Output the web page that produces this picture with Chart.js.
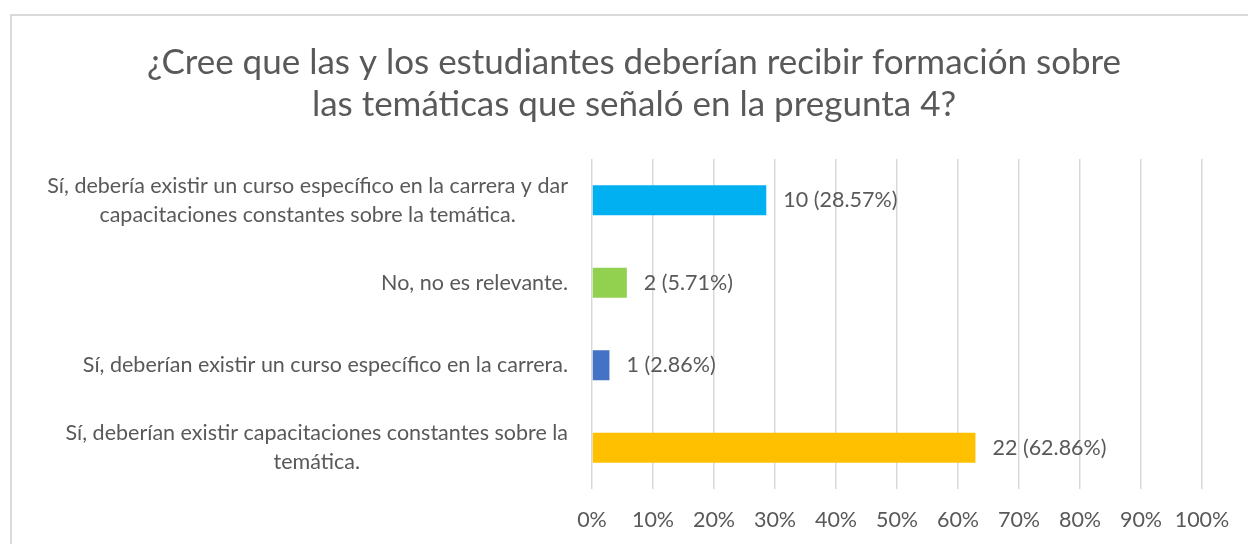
<!DOCTYPE html>
<html>
<head>
<meta charset="utf-8">
<script src="https://cdn.jsdelivr.net/npm/chart.js@4.4.1/dist/chart.umd.min.js"></script>
<style>
    html, body { margin: 0; background: #fff; overflow: hidden; width: 1248px; height: 544px; }
    #marco { position: absolute; left: 10px; top: 14px; width: 1236px; height: 528px; border-left: 2px solid #d9d9d9; border-top: 2px solid #d9d9d9; }
    #grafico { position: absolute; left: 0; top: 0; }
</style>
</head>
<body>
<div id="marco"></div>
<canvas id="grafico" width="1248" height="544"></canvas>
<script>
// Datos de la pregunta
var titulo = [
    "¿Cree que las y los estudiantes deberían recibir formación sobre",
    "las temáticas que señaló en la pregunta 4?"
];
var categorias = [
    ["Sí, debería existir un curso específico en la carrera y dar", "capacitaciones constantes sobre la temática."],
    ["No, no es relevante."],
    ["Sí, deberían existir un curso específico en la carrera."],
    ["Sí, deberían existir capacitaciones constantes sobre la", "temática."]
];
var cantidades = [10, 2, 1, 22];
var porcentajes = [28.57, 5.71, 2.86, 62.86];
var colores = ['#00B0F0', '#92D050', '#4472C4', '#FFC000'];
var marcasX = [0, 10, 20, 30, 40, 50, 60, 70, 80, 90, 100];

var colorTexto = '#595959';
var tamLetra = 21.5;

//Etiquetas de categorias (centradas por bloque) y valores al final de cada barra
var etiquetasPlugin = {
    id: 'etiquetas',
    afterDatasetsDraw: function (chart) {
        var ctx = chart.ctx;
        var escalaY = chart.scales.y;
        var area = chart.chartArea;
        ctx.save();
        ctx.font = tamLetra + 'px Lato';
        ctx.fillStyle = colorTexto;
        ctx.textBaseline = 'middle';

        ctx.textAlign = 'center';
        categorias.forEach(function (lineas, i) {
            var yc = escalaY.getPixelForValue(i);
            var ancho = Math.max.apply(null, lineas.map(function (l) { return ctx.measureText(l).width; }));
            var xc = area.left - 24 - ancho / 2;
            lineas.forEach(function (linea, j) {
                ctx.fillText(linea, xc, yc + (j - (lineas.length - 1) / 2) * 28.7);
            });
        });

        ctx.textAlign = 'left';
        var meta = chart.getDatasetMeta(0);
        meta.data.forEach(function (barra, i) {
            ctx.fillText(cantidades[i] + ' (' + porcentajes[i].toFixed(2) + '%)', barra.x + 17, barra.y);
        });
        ctx.restore();
    }
};

Chart.defaults.font.family = "Lato";
Chart.defaults.color = colorTexto;

var grafico = new Chart(document.getElementById("grafico"), {
    type: 'bar',
    data: {
        labels: categorias,
        datasets: [{
            data: porcentajes,
            backgroundColor: colores,
            borderWidth: 0,
            barPercentage: 0.364,
            categoryPercentage: 1
        }]
    },
    options: {
        indexAxis: 'y',
        responsive: false,
        animation: false,
        layout: {
            padding: { left: 66, right: 46, top: 0, bottom: 0 }
        },
        plugins: {
            legend: { display: false },
            tooltip: { enabled: false },
            title: {
                display: true,
                text: titulo,
                color: colorTexto,
                font: { size: 35, weight: 'normal' },
                lineHeight: 1.334,
                padding: { top: 42, bottom: 33 }
            }
        },
        scales: {
            x: {
                min: 0,
                max: 100,
                ticks: {
                    stepSize: 10,
                    padding: 18,
                    font: { size: tamLetra },
                    callback: function (v) { return marcasX.indexOf(v) >= 0 ? v + '%' : ''; }
                },
                grid: { color: '#d9d9d9', lineWidth: 1.5, drawTicks: false },
                border: { display: false },
                afterFit: function (scale) { scale.height = 55; }
            },
            y: {
                ticks: { display: false },
                grid: { display: false },
                border: { display: false },
                afterFit: function (scale) { scale.width = 592 - 66; }
            }
        }
    },
    plugins: [etiquetasPlugin]
});
</script>
</body>
</html>
